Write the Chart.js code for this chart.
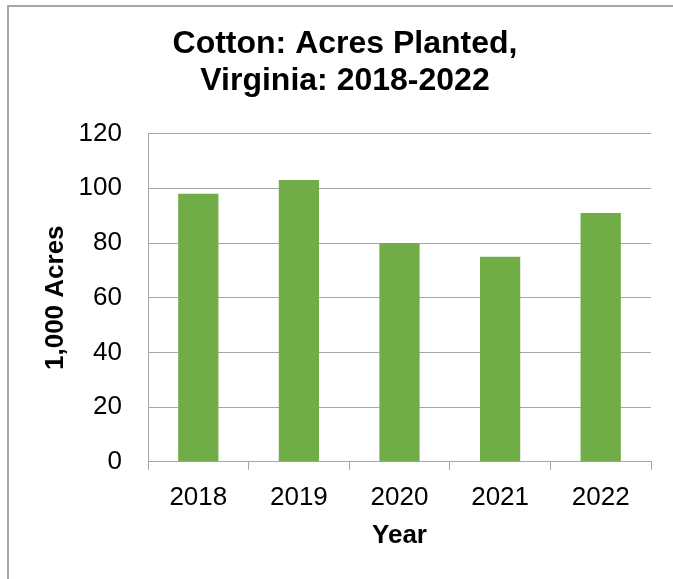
<!DOCTYPE html>
<html>
<head>
<meta charset="utf-8">
<script src="https://cdn.jsdelivr.net/npm/chart.js@4.4.1/dist/chart.umd.min.js"></script>
<style>
  html, body { margin: 0; padding: 0; background: #fff; overflow: hidden; }
  #wrap { position: relative; width: 673px; height: 579px; }
  #frame {
    position: absolute; left: 7px; top: 5px; width: 700px; height: 600px;
    border-left: 2px solid #a6a6a6; border-top: 2px solid #a6a6a6;
  }
  #barChart { position: absolute; left: 0; top: 0; }
</style>
</head>
<body>
<div id="wrap">
  <div id="frame"></div>
  <canvas id="barChart" width="673" height="579"></canvas>
</div>
<script>
// Cotton acres planted in Virginia, in 1,000 acres
const years = ['2018', '2019', '2020', '2021', '2022'];
const acresPlanted = [98, 103, 80, 75, 91];
const yMin = 0;
const yMax = 120;
const yStep = 20;

const fontFamily = '"Liberation Sans", Arial, sans-serif';
const gridColor = '#a6a6a6';

const ctxBar = document.getElementById('barChart').getContext('2d');
const barChart = new Chart(ctxBar, {
  type: 'bar',
  data: {
    labels: years,
    datasets: [{
      label: 'Acres Planted',
      data: acresPlanted,
      backgroundColor: '#70AD47',
      barPercentage: 0.4,
      categoryPercentage: 1.0
    }]
  },
  options: {
    responsive: false,
    animation: false,
    layout: {
      padding: { left: 39, right: 22, top: 8, bottom: 33 }
    },
    plugins: {
      legend: { display: false },
      tooltip: { enabled: false },
      title: {
        display: true,
        text: ['Cotton: Acres Planted,', 'Virginia: 2018-2022'],
        color: '#000',
        font: { family: fontFamily, size: 32, weight: 'bold', lineHeight: 1.15 },
        padding: { top: 18, bottom: 34 }
      }
    },
    scales: {
      x: {
        grid: {
          display: true,
          drawOnChartArea: false,
          drawTicks: true,
          tickLength: 8,
          color: gridColor
        },
        border: { display: true, color: gridColor },
        ticks: {
          color: '#000',
          font: { family: fontFamily, size: 26, lineHeight: 0.9 },
          padding: 16
        },
        title: {
          display: true,
          text: 'Year',
          color: '#000',
          font: { family: fontFamily, size: 26, weight: 'bold', lineHeight: 0.8 },
          padding: { top: 0, bottom: 0 }
        }
      },
      y: {
        min: yMin,
        max: yMax,
        afterFit: function (scale) { scale.width = 109; },
        grid: {
          color: gridColor,
          drawTicks: false
        },
        border: { display: true, color: gridColor },
        ticks: {
          stepSize: yStep,
          color: '#000',
          font: { family: fontFamily, size: 26 },
          padding: 26
        },
        title: {
          display: true,
          text: '1,000 Acres',
          color: '#000',
          font: { family: fontFamily, size: 26, weight: 'bold' },
          padding: { top: 1, bottom: 0 }
        }
      }
    }
  }
});
</script>
</body>
</html>
